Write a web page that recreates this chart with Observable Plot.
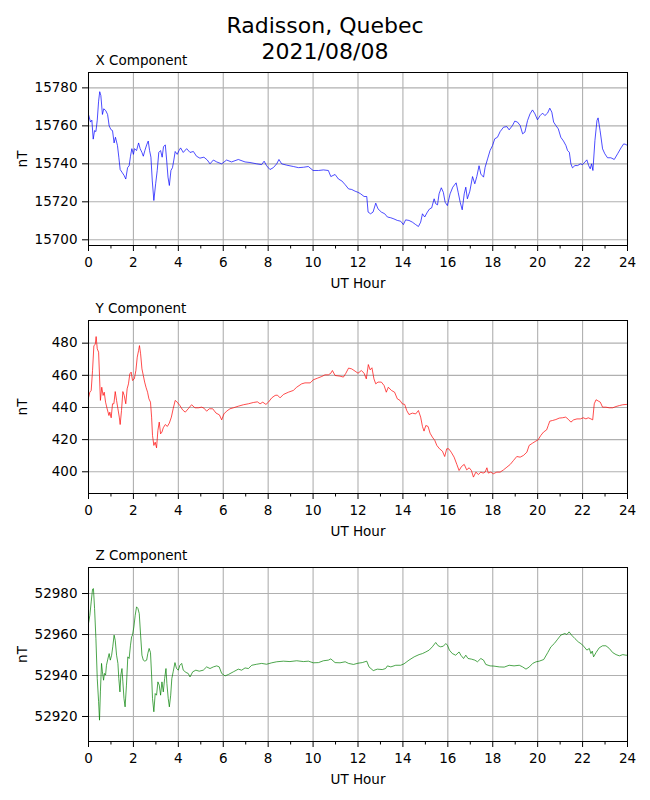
<!DOCTYPE html>
<html>
<head>
<meta charset="utf-8">
<script src="https://cdn.jsdelivr.net/npm/d3@7"></script>
<script src="https://cdn.jsdelivr.net/npm/@observablehq/plot@0.6"></script>
<style>
  html, body { margin: 0; padding: 0; background: #fff; }
  #fig { position: relative; width: 650px; height: 800px; font-family: "DejaVu Sans", sans-serif; color: #000; }
  .title { position: absolute; left: 0; top: 13px; width: 650px; text-align: center; font-size: 22px; line-height: 26px; z-index: 2; }
  .panel { position: absolute; left: 0; z-index: 1; }
</style>
</head>
<body>
<div id="fig">
  <div class="title">Radisson, Quebec<br>2021/08/08</div>
</div>
<script>
// ---- Data (hour UT, nT) ----
const xSeries = [[0,15766],[0.09,15762],[0.15,15763],[0.21,15753],[0.27,15757.5],[0.33,15757],[0.39,15763],[0.45,15773],[0.5,15778],[0.55,15776],[0.62,15766],[0.68,15769],[0.77,15768],[0.85,15766],[0.92,15760],[1.0,15758],[1.07,15757.5],[1.14,15751],[1.2,15754],[1.29,15749.6],[1.35,15743.5],[1.41,15737],[1.49,15735.6],[1.58,15734],[1.66,15732],[1.74,15738],[1.81,15739],[1.87,15744],[1.93,15748],[2.0,15745],[2.05,15748],[2.14,15747],[2.23,15751],[2.3,15748],[2.38,15746],[2.44,15744],[2.51,15747],[2.59,15750],[2.66,15752],[2.72,15747],[2.78,15743.5],[2.84,15731],[2.91,15720.7],[2.99,15729.5],[3.06,15736.5],[3.13,15746],[3.21,15747],[3.28,15743.5],[3.34,15749],[3.42,15750],[3.48,15742],[3.54,15733],[3.6,15728.6],[3.67,15736.5],[3.74,15738],[3.8,15742],[3.86,15746.5],[3.95,15745],[4.03,15747],[4.1,15748.4],[4.22,15746],[4.37,15748],[4.52,15746],[4.67,15746.5],[4.81,15744],[4.96,15743],[5.14,15743.5],[5.29,15742],[5.41,15740],[5.56,15742],[5.71,15741],[5.93,15740],[6.15,15742],[6.37,15741],[6.67,15742.3],[6.97,15741],[7.19,15740.7],[7.49,15740],[7.71,15739.6],[7.82,15741.4],[7.93,15739],[8.08,15737],[8.23,15738],[8.38,15740],[8.48,15742.3],[8.6,15740],[8.83,15739.3],[9.12,15738.6],[9.35,15738],[9.57,15738.2],[9.79,15738.6],[10.0,15736.5],[10.24,15736.5],[10.46,15736.8],[10.68,15736.5],[10.79,15733.3],[10.98,15734.4],[11.13,15732],[11.28,15731],[11.43,15729],[11.58,15726.8],[11.72,15726.5],[11.87,15725.6],[12.0,15725],[12.12,15724.2],[12.27,15722.8],[12.39,15722.8],[12.45,15714.6],[12.56,15713.7],[12.67,15714.6],[12.79,15719.3],[12.89,15716.3],[13.04,15714.6],[13.19,15713.7],[13.31,15712],[13.46,15711.6],[13.6,15711],[13.75,15710.2],[13.9,15709.8],[14.02,15708],[14.12,15710.5],[14.27,15710.2],[14.42,15709.3],[14.57,15708],[14.69,15707],[14.79,15709.3],[14.87,15713.7],[14.97,15712],[15.09,15714.6],[15.19,15716.3],[15.28,15716.8],[15.39,15721.6],[15.46,15719],[15.54,15718.4],[15.61,15724.2],[15.71,15727.4],[15.8,15725],[15.88,15719.8],[15.98,15718],[16.1,15724.2],[16.22,15727.7],[16.37,15730],[16.46,15725],[16.55,15719.8],[16.64,15715.8],[16.73,15724.2],[16.8,15727.7],[16.87,15721.6],[16.98,15725.6],[17.1,15733.3],[17.2,15729.5],[17.29,15733.3],[17.39,15739],[17.47,15734.6],[17.59,15733],[17.66,15738.2],[17.77,15742.6],[17.88,15747],[17.99,15749.6],[18.09,15753.2],[18.21,15754],[18.33,15757],[18.48,15759.3],[18.63,15759.6],[18.73,15757.9],[18.88,15760.2],[18.98,15762.5],[19.1,15762],[19.22,15760.2],[19.33,15755.8],[19.43,15756.7],[19.55,15762.8],[19.66,15766.3],[19.77,15768.4],[19.88,15766.3],[19.99,15763.2],[20.11,15765.4],[20.22,15766.7],[20.32,15765.4],[20.44,15766.7],[20.54,15769.3],[20.63,15767.2],[20.71,15762],[20.81,15760.2],[20.92,15758.4],[21.03,15754],[21.15,15752],[21.26,15749.6],[21.33,15747],[21.41,15746.1],[21.48,15740],[21.55,15737.9],[21.66,15739.1],[21.78,15739.1],[21.9,15740],[22.0,15739.6],[22.1,15740.9],[22.19,15742.1],[22.27,15739.1],[22.34,15737.4],[22.4,15740],[22.46,15736.5],[22.55,15752.3],[22.64,15762.8],[22.69,15764.2],[22.78,15757.5],[22.89,15747.9],[22.99,15745.3],[23.11,15743.2],[23.26,15743.2],[23.41,15742.3],[23.56,15745.3],[23.71,15748.4],[23.83,15750.5],[23.93,15750.2],[24.0,15749.6]];

const ySeries = [[0,446],[0.06,449.5],[0.12,450.6],[0.18,463],[0.24,478.5],[0.3,479.2],[0.34,484.1],[0.39,476.5],[0.45,474.4],[0.49,459.9],[0.53,444.4],[0.59,452.6],[0.65,447.5],[0.7,449.5],[0.76,443.3],[0.83,439.2],[0.91,435],[0.95,437.1],[1.01,433.6],[1.07,442.3],[1.13,442.3],[1.19,449.9],[1.25,444.4],[1.31,439.2],[1.37,434],[1.41,429.4],[1.47,438.1],[1.53,449.9],[1.59,447.5],[1.66,442.3],[1.72,451.6],[1.78,454.7],[1.84,460.9],[1.9,462],[1.96,456.8],[2.04,457.8],[2.11,463],[2.17,471.3],[2.23,475.4],[2.27,478.5],[2.32,473.4],[2.38,464],[2.44,459.9],[2.5,455.8],[2.56,452.6],[2.63,449.5],[2.69,445.4],[2.76,443.3],[2.81,434],[2.85,422.6],[2.91,416.4],[2.97,418.4],[3.03,414.9],[3.09,425.7],[3.15,430.9],[3.21,423.6],[3.27,424.7],[3.33,427.4],[3.42,429.4],[3.51,428.2],[3.6,430.3],[3.69,434],[3.77,439.2],[3.86,444.4],[3.95,443.3],[4.07,441.2],[4.19,438.5],[4.31,437.1],[4.44,439.2],[4.59,441.7],[4.74,439.8],[4.89,439.8],[5.04,440.2],[5.14,439.6],[5.26,437.7],[5.38,439.2],[5.53,439.2],[5.68,436.5],[5.83,435.4],[5.93,432.3],[6.03,436],[6.15,437.7],[6.3,439.2],[6.45,439.8],[6.67,440.8],[6.9,441.7],[7.12,442.3],[7.34,443.1],[7.52,443.5],[7.64,442.3],[7.76,443.3],[7.9,441.9],[8.01,443.3],[8.16,446],[8.31,447.5],[8.41,447.7],[8.53,446],[8.68,448.1],[8.9,449.5],[9.12,450.6],[9.27,452.6],[9.49,454.7],[9.64,455.3],[9.87,455.3],[10.01,457.2],[10.19,458.2],[10.39,459.3],[10.53,460.3],[10.68,460.3],[10.79,461.3],[10.86,463],[10.98,459.9],[11.2,459.5],[11.35,458.9],[11.46,461.3],[11.58,464.5],[11.72,464],[11.87,462.6],[12.0,461.3],[12.15,463],[12.27,461.3],[12.37,457.8],[12.46,466.7],[12.54,463.4],[12.62,464.7],[12.71,457.8],[12.79,454.7],[12.89,455.8],[13.04,455.8],[13.16,453.7],[13.26,449.5],[13.35,452.6],[13.49,450.6],[13.63,449.5],[13.75,445.4],[13.87,444.4],[13.97,442.3],[14.08,441.9],[14.17,438.1],[14.27,435.6],[14.42,436.5],[14.57,436],[14.69,438.1],[14.79,434],[14.87,428.2],[14.94,425.3],[15.02,428.8],[15.12,428.2],[15.21,424],[15.31,421.6],[15.42,419.5],[15.51,416.4],[15.63,414.3],[15.76,412.8],[15.86,409.5],[15.95,414.3],[16.04,414.3],[16.15,412.2],[16.28,409.1],[16.4,404.6],[16.5,400.8],[16.61,403.3],[16.73,404.6],[16.84,401.2],[16.95,402.5],[17.05,400.8],[17.14,396.7],[17.25,399.8],[17.36,398.3],[17.47,399.8],[17.57,399.2],[17.66,399.8],[17.74,402.5],[17.8,399.2],[17.91,399.8],[18.03,398.8],[18.18,399.8],[18.33,399.8],[18.48,401.2],[18.63,402.9],[18.78,404.6],[18.92,407],[19.07,409.5],[19.22,409.1],[19.37,410.2],[19.52,412.2],[19.62,416.4],[19.77,417.8],[19.92,419.1],[20.02,419.9],[20.14,422.6],[20.26,424.7],[20.4,426.1],[20.47,428.8],[20.54,431.5],[20.66,431.9],[20.81,432.5],[20.96,433.4],[21.1,433.6],[21.25,434],[21.36,432.7],[21.48,430.9],[21.6,432.3],[21.75,432.9],[21.9,432.9],[22.03,433.6],[22.15,432.9],[22.25,433.6],[22.37,432.9],[22.45,432.3],[22.52,442.3],[22.6,444.8],[22.7,444],[22.79,443.3],[22.89,440.2],[23.04,440.2],[23.19,439.8],[23.34,439.8],[23.49,440.6],[23.64,441.2],[23.79,441.7],[23.94,441.9],[24.0,441.9]];

const zSeries = [[0,52965.4],[0.06,52969.4],[0.12,52975.9],[0.18,52982.1],[0.22,52982.4],[0.27,52972.7],[0.33,52958],[0.39,52938.5],[0.45,52927.2],[0.49,52918.2],[0.53,52932],[0.58,52945.9],[0.62,52941.8],[0.67,52937.7],[0.71,52941],[0.76,52940.2],[0.8,52945],[0.86,52948],[0.92,52950.7],[0.97,52947.5],[1.03,52949.9],[1.08,52954],[1.14,52959.7],[1.19,52957.2],[1.25,52949.9],[1.31,52945.9],[1.35,52938.5],[1.4,52932],[1.44,52940.2],[1.49,52943.4],[1.53,52936.9],[1.58,52928.8],[1.63,52924.7],[1.69,52935.3],[1.75,52949.1],[1.81,52948.3],[1.87,52954.8],[1.92,52958.9],[1.96,52959.7],[2.02,52963.7],[2.08,52969.4],[2.14,52973.5],[2.2,52972.7],[2.26,52970.2],[2.32,52959.7],[2.38,52949.9],[2.44,52947.5],[2.51,52947],[2.59,52947.5],[2.64,52950.7],[2.7,52953.2],[2.76,52951.2],[2.81,52940.2],[2.85,52928.8],[2.91,52922.3],[2.97,52931.2],[3.03,52930.4],[3.09,52936.9],[3.15,52935.3],[3.21,52930.4],[3.27,52936.9],[3.33,52932],[3.39,52938.5],[3.45,52943.4],[3.49,52936.1],[3.55,52928.8],[3.6,52924.7],[3.66,52930.4],[3.71,52938.5],[3.77,52941.8],[3.85,52946.3],[3.92,52943.4],[4.0,52942.6],[4.07,52945],[4.15,52945.9],[4.22,52942.6],[4.34,52941.5],[4.44,52941],[4.52,52939.3],[4.64,52941.8],[4.78,52942.6],[4.93,52942.1],[5.11,52942.6],[5.26,52944.2],[5.41,52943.4],[5.56,52944.2],[5.71,52944.7],[5.82,52944.2],[5.93,52941],[6.08,52939.8],[6.23,52940.5],[6.45,52941.8],[6.67,52943.1],[6.82,52942.6],[6.97,52943.7],[7.12,52943.4],[7.27,52945],[7.49,52945.5],[7.71,52945.9],[7.93,52945.5],[8.16,52946.2],[8.38,52946.7],[8.68,52947],[8.97,52946.8],[9.27,52947.2],[9.57,52946.8],[9.79,52947],[10.01,52946.2],[10.24,52946.3],[10.46,52947.2],[10.68,52947.5],[10.79,52948.1],[10.98,52946.3],[11.2,52946.2],[11.43,52946.7],[11.58,52945.9],[11.8,52945.4],[12.0,52946],[12.19,52946.3],[12.39,52947],[12.49,52944.2],[12.68,52942.4],[12.86,52943.1],[13.08,52942.9],[13.23,52943.4],[13.31,52944.7],[13.46,52944.2],[13.68,52945],[13.9,52945],[14.05,52945.7],[14.27,52947.5],[14.5,52949.1],[14.72,52950.2],[14.87,52950.7],[15.02,52951.5],[15.17,52952.4],[15.31,52954],[15.46,52956.1],[15.57,52954.5],[15.68,52954],[15.8,52954.3],[15.91,52955.6],[15.98,52954.8],[16.07,52952.4],[16.2,52950.7],[16.35,52949.9],[16.5,52951.5],[16.58,52949.9],[16.7,52948.3],[16.8,52949.9],[16.9,52948.3],[17.05,52948],[17.2,52947.5],[17.32,52946.7],[17.47,52948.3],[17.59,52947.5],[17.69,52945.4],[17.88,52944.7],[18.05,52944.6],[18.29,52944.2],[18.51,52944.1],[18.73,52945],[18.95,52944.7],[19.18,52945],[19.33,52944.2],[19.48,52943.1],[19.63,52944.2],[19.78,52945.9],[19.93,52946.7],[20.07,52947],[20.27,52947.8],[20.45,52951.2],[20.59,52954],[20.74,52955.6],[20.89,52957.7],[21.03,52959.7],[21.21,52960.5],[21.3,52960],[21.4,52961.3],[21.51,52959.7],[21.66,52958],[21.81,52956.4],[21.96,52955.3],[22.07,52954],[22.19,52952.4],[22.3,52953.2],[22.37,52950.7],[22.43,52951.9],[22.49,52949.1],[22.6,52951.2],[22.74,52953.5],[22.89,52954.5],[23.04,52954.5],[23.19,52953.2],[23.34,52951.2],[23.49,52950.2],[23.64,52949.6],[23.79,52950.2],[23.93,52949.9],[24.0,52949.9]];

const hourTicks = [0, 2, 4, 6, 8, 10, 12, 14, 16, 18, 20, 22, 24];
const hourMinorTicks = [1, 3, 5, 7, 9, 11, 13, 15, 17, 19, 21, 23];
const xTicks = [15700, 15720, 15740, 15760, 15780];
const yTicks = [400, 420, 440, 460, 480];
const zTicks = [52920, 52940, 52960, 52980];

const panels = [
  {title: "X Component", data: xSeries, ticks: xTicks, domain: [15697, 15788.1], color: "blue", top: 42, inner: 173},
  {title: "Y Component", data: ySeries, ticks: yTicks, domain: [386.5, 494.1], color: "red", top: 290, inner: 173},
  {title: "Z Component", data: zSeries, ticks: zTicks, domain: [52907.8, 52992.7], color: "green", top: 537, inner: 174}
];

const fig = document.getElementById("fig");
const FS = 13.5;
const gridStyle = {stroke: "#b0b0b0", strokeOpacity: 1, strokeWidth: 1.1};

for (const p of panels) {
  const mt = 30, mb = 55;
  const data = p.data.map(([h, v]) => ({h, v}));
  const chart = Plot.plot({
    width: 650,
    height: mt + p.inner + mb,
    marginTop: mt,
    marginBottom: mb,
    marginLeft: 88,
    marginRight: 23,
    style: {fontFamily: "DejaVu Sans, sans-serif", fontSize: FS + "px", background: "transparent", overflow: "visible"},
    x: {domain: [0, 24]},
    y: {domain: p.domain},
    marks: [
      Plot.gridX(hourTicks, gridStyle),
      Plot.gridY(p.ticks, gridStyle),
      Plot.line(data, {x: "h", y: "v", stroke: p.color, strokeWidth: 0.7}),
      Plot.frame({stroke: "black", strokeWidth: 1}),
      Plot.axisX(hourTicks, {tickSize: 6, tickPadding: 6, label: null, fontSize: FS, tickFormat: d => String(d)}),
      Plot.axisX(hourMinorTicks, {tickSize: 3.5, label: null, tickFormat: () => ""}),
      Plot.axisY(p.ticks, {tickSize: 6, tickPadding: 5, label: null, fontSize: FS, tickFormat: d => String(d)}),
      Plot.text([p.title], {frameAnchor: "top-left", dx: 7, dy: -8, lineAnchor: "bottom", textAnchor: "start", fontSize: FS, fill: "black"}),
      Plot.text(["UT Hour"], {frameAnchor: "bottom", dy: 42, lineAnchor: "bottom", textAnchor: "middle", fontSize: FS, fill: "black"}),
      Plot.text(["nT"], {frameAnchor: "left", dx: -66, rotate: -90, lineAnchor: "middle", textAnchor: "middle", fontSize: FS, fill: "black"})
    ]
  });
  chart.classList.add("panel");
  chart.style.top = p.top + "px";
  chart.style.position = "absolute";
  chart.style.left = "0px";
  fig.appendChild(chart);
}
</script>
</body>
</html>
